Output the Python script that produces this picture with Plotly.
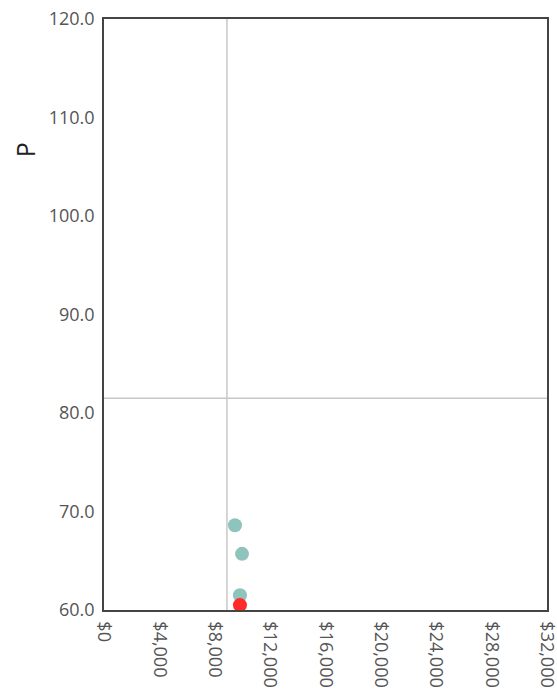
import plotly.graph_objects as go

# --- data ---
teal_x = [9460, 9970, 9820]
teal_y = [68.6, 65.7, 61.5]
red_x = [9820]
red_y = [60.5]

ref_x = 8880     # vertical reference line
ref_y = 81.5     # horizontal reference line

y_ticks = [60, 70, 80, 90, 100, 110, 120]
x_ticks = [0, 4000, 8000, 12000, 16000, 20000, 24000, 28000, 32000]

FONT = "Open Sans"

fig = go.Figure()

fig.add_trace(go.Scatter(
    x=teal_x, y=teal_y, mode="markers",
    marker=dict(size=14, color="#8fc4bd"),
    showlegend=False, cliponaxis=False,
))
fig.add_trace(go.Scatter(
    x=red_x, y=red_y, mode="markers",
    marker=dict(size=14, color="#ff2a2a"),
    showlegend=False, cliponaxis=False,
))

# reference lines
fig.add_shape(type="line", xref="x", yref="paper", x0=ref_x, x1=ref_x, y0=0, y1=1,
              line=dict(color="#c8c8c8", width=1.5), layer="below")
fig.add_shape(type="line", xref="paper", yref="y", x0=0, x1=1, y0=ref_y, y1=ref_y,
              line=dict(color="#c8c8c8", width=1.5), layer="below")

# y-axis title placed near the top like the reference
fig.add_annotation(text="P", xref="paper", yref="paper", x=-0.178, y=0.778,
                   xanchor="center", yanchor="middle",
                   showarrow=False, textangle=-90,
                   font=dict(family=FONT, size=25, color="#222"))

fig.update_xaxes(
    range=[0, 32000], tickvals=x_ticks, tickformat="$,.0f", tickangle=90,
    showgrid=False, zeroline=False, showline=True, linecolor="#444", linewidth=1.5,
    mirror=True, ticks="", ticklabelstandoff=6, automargin=False,
    ticklabeloverflow="allow",
    tickfont=dict(family=FONT, size=18, color="#555"),
)
fig.update_yaxes(
    range=[60, 120], tickvals=y_ticks, tickformat=".1f",
    showgrid=False, zeroline=False, showline=True, linecolor="#444", linewidth=1.5,
    mirror=True, ticks="", ticklabelstandoff=4, automargin=False,
    ticklabeloverflow="allow",
    tickfont=dict(family=FONT, size=18, color="#555"),
)

fig.update_layout(
    width=557, height=689,
    margin=dict(l=104, r=10, t=19, b=79),
    plot_bgcolor="white", paper_bgcolor="white",
    font=dict(family=FONT),
)

# drop the page's default body margin so the figure fills the window exactly
fig.write_html("out.html", config={"displayModeBar": False},
               post_script="document.body.style.margin='0';document.body.style.overflow='hidden';")
